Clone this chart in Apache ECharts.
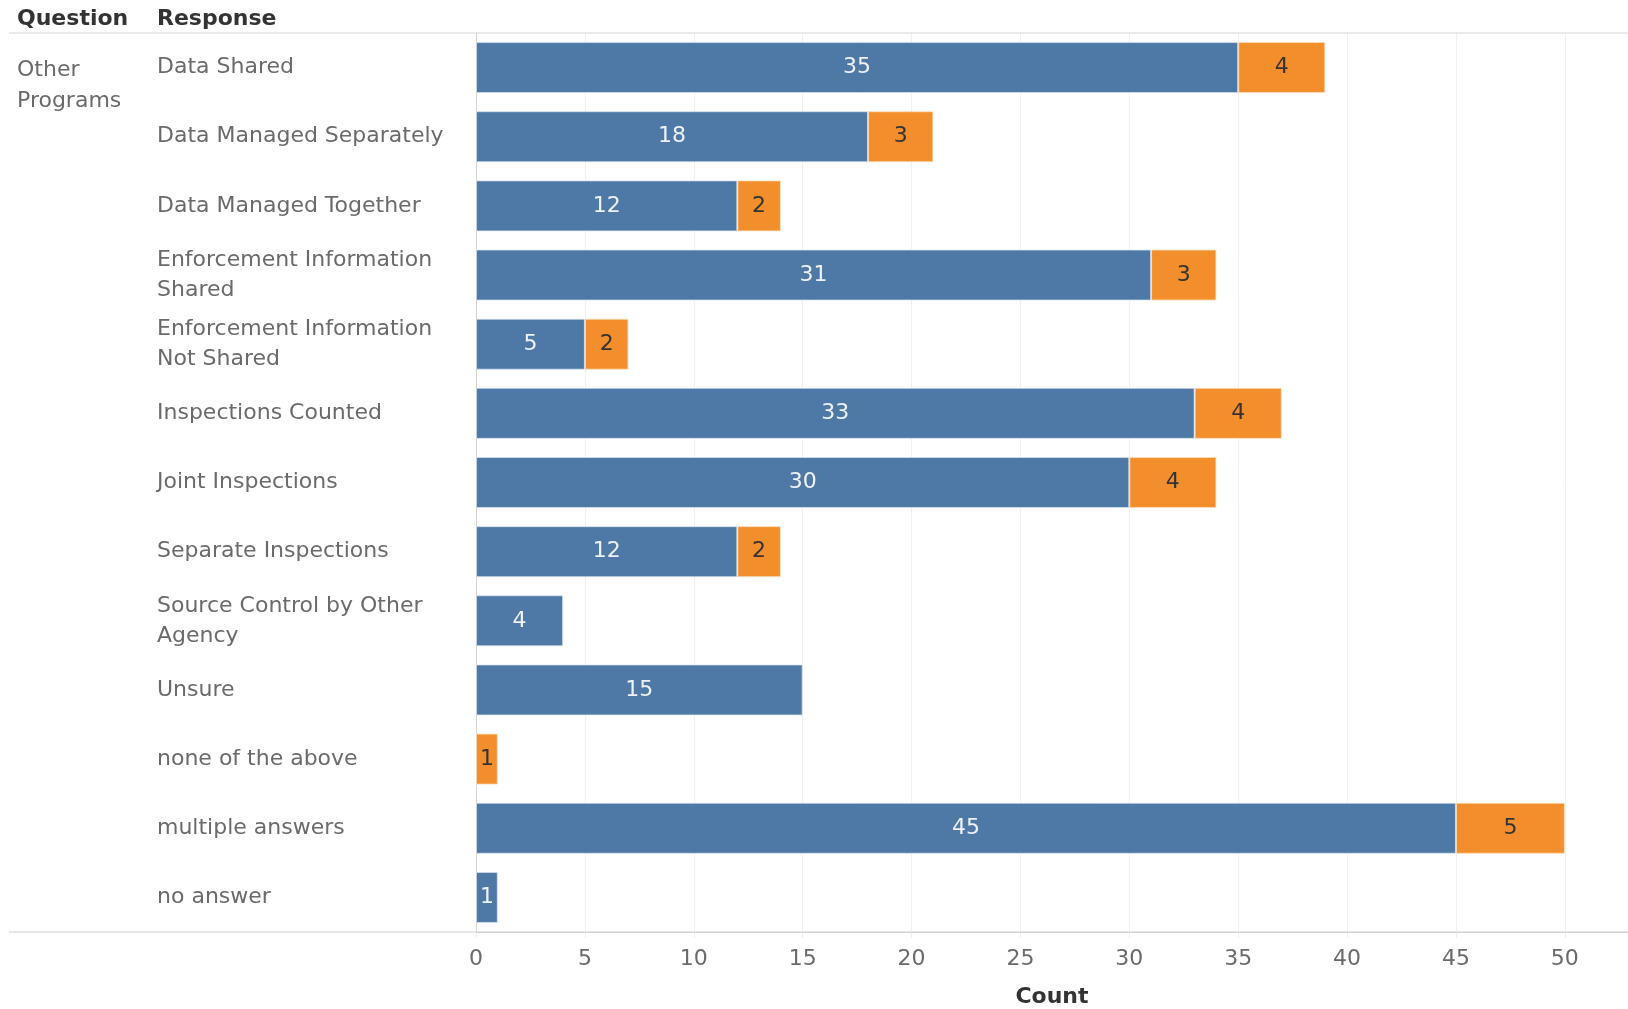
<!DOCTYPE html>
<html>
<head>
<meta charset="utf-8">
<script src="https://cdn.jsdelivr.net/npm/echarts@6/dist/echarts.min.js"></script>
<style>
html,body{margin:0;padding:0;background:#fff;}
#c{width:1628px;height:1009px;}
</style>
</head>
<body>
<div id="c"></div>
<script>
var categories = ["Data Shared","Data Managed Separately","Data Managed Together","Enforcement Information Shared","Enforcement Information Not Shared","Inspections Counted","Joint Inspections","Separate Inspections","Source Control by Other Agency","Unsure","none of the above","multiple answers","no answer"];
var blueValues = [35,18,12,31,5,33,30,12,4,15,null,45,1];
var orangeValues = [4,3,2,3,2,4,4,2,null,null,1,5,null];
var xTicks = [0,5,10,15,20,25,30,35,40,45,50];
var questionLabel = "Other\nPrograms";

var FONT = "'DejaVu Sans', 'Noto Sans', sans-serif";
var chart = echarts.init(document.getElementById('c'));
chart.setOption({
  animation: false,
  textStyle: {fontFamily: FONT},
  grid: {left: 476, top: 33, right: 0, bottom: 77, containLabel: false, outerBoundsMode: 'none'},
  xAxis: {
    type: 'value', min: 0, max: 52.9, interval: 5,
    axisLine: {show: true, lineStyle: {color: '#cfcfcf', width: 1}},
    axisTick: {show: true, length: 6, lineStyle: {color: '#ececec'}},
    splitLine: {show: true, lineStyle: {color: '#f0f0f0', width: 1}},
    axisLabel: {
      color: '#6a6a6a', fontSize: 22, fontFamily: FONT, margin: 16, showMaxLabel: false,
      formatter: function (v) { return xTicks.indexOf(v) >= 0 ? String(v) : ''; }
    },
    name: 'Count', nameLocation: 'middle', nameGap: 54,
    nameTextStyle: {color: '#333', fontSize: 22, fontWeight: 'bold', fontFamily: FONT}
  },
  yAxis: {
    type: 'category', inverse: true, data: categories,
    axisLine: {show: true, lineStyle: {color: '#d4d4d4'}},
    axisTick: {show: false},
    splitLine: {show: false},
    axisLabel: {
      align: 'left', margin: 319, width: 310, overflow: 'break', lineHeight: 30,
      padding: [8, 0, 0, 0],
      color: '#6a6a6a', fontSize: 22, fontFamily: FONT
    }
  },
  series: [
    {
      type: 'bar', stack: 'a', data: blueValues, barWidth: 51,
      itemStyle: {color: '#4e79a7', borderColor: 'rgba(220,228,238,0.7)', borderWidth: 1},
      label: {show: true, position: 'inside', color: '#eef2f7', fontSize: 22, fontFamily: FONT}
    },
    {
      type: 'bar', stack: 'a', data: orangeValues, barWidth: 51,
      itemStyle: {color: '#f28e2b', borderColor: 'rgba(252,222,190,0.8)', borderWidth: 1},
      label: {show: true, position: 'inside', color: '#333', fontSize: 22, fontFamily: FONT}
    }
  ],
  graphic: [
    {type: 'line', shape: {x1: 9, y1: 33, x2: 1628, y2: 33}, style: {stroke: '#d6d6d6', lineWidth: 1}, z: 10},
    {type: 'line', shape: {x1: 9, y1: 932, x2: 1628, y2: 932}, style: {stroke: '#cfcfcf', lineWidth: 1}, z: 10},
    {type: 'text', left: 17, top: 8, style: {text: 'Question', fill: '#333', font: 'bold 22px ' + FONT}},
    {type: 'text', left: 157, top: 8, style: {text: 'Response', fill: '#333', font: 'bold 22px ' + FONT}},
    {type: 'text', left: 17, top: 55, style: {text: questionLabel, fill: '#6a6a6a', font: '22px ' + FONT, lineHeight: 31}}
  ]
});
</script>
</body>
</html>
